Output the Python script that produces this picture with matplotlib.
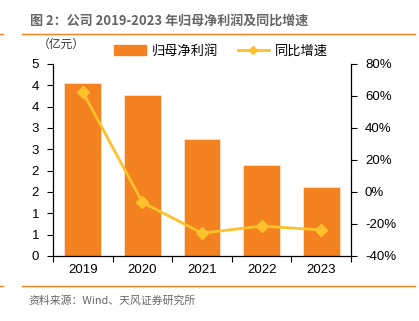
import matplotlib
matplotlib.use('Agg')
import matplotlib.pyplot as plt
from matplotlib.ticker import FuncFormatter, MultipleLocator
from matplotlib.lines import Line2D
from matplotlib.patches import Patch
import math

years = ['2019', '2020', '2021', '2022', '2023']
profit = [4.05, 3.77, 2.74, 2.13, 1.62]        # 亿元
growth = [0.625, -0.065, -0.257, -0.213, -0.237]

bar_color = '#F58220'
line_color = '#FDC12B'
cjk = ['Noto Sans CJK SC', 'DejaVu Sans']
latin = ['Liberation Sans', 'Noto Sans CJK SC']

plt.rcParams['font.family'] = latin

fig = plt.figure(figsize=(4.19, 3.21), dpi=100)
ax = fig.add_axes([53 / 419, 1 - 256 / 321, 298 / 419, 192 / 321])
ax2 = ax.twinx()

x = list(range(len(years)))
ax.bar(x, profit, width=0.62, color=bar_color, edgecolor='#FBE3CC', linewidth=0.6, zorder=2)
ax2.plot(x, growth, color=line_color, lw=2, marker='D', ms=6, zorder=3)

ax.set_xlim(-0.5, 4.5)
ax.set_ylim(0, 4.5)
ax2.set_ylim(-0.4, 0.8)

ax.yaxis.set_major_locator(MultipleLocator(0.5))
ax.yaxis.set_major_formatter(FuncFormatter(lambda v, p: '%d' % math.floor(v + 0.5 + 1e-9)))
ax2.yaxis.set_major_locator(MultipleLocator(0.2))
ax2.yaxis.set_major_formatter(FuncFormatter(lambda v, p: '%d%%' % round(v * 100)))

ax.set_xticks(x)
ax.set_xticklabels(years)
ax.set_xticks([i - 0.5 for i in range(len(years) + 1)], minor=True)
ax.tick_params(axis='x', which='major', length=0, pad=6, labelsize=9.5)
ax.tick_params(axis='x', which='minor', length=4, direction='out', width=0.8)
ax.tick_params(axis='y', length=4, width=0.8, labelsize=9.5, pad=6)
ax2.tick_params(axis='y', length=4, width=0.8, labelsize=9.5, pad=6)

for a in (ax, ax2):
    a.spines['top'].set_visible(False)
    for s in ('left', 'right', 'bottom'):
        a.spines[s].set_linewidth(0.9)
ax.spines['right'].set_visible(False)
ax2.spines['left'].set_visible(False)
ax2.spines['bottom'].set_visible(False)

handles = [Patch(color=bar_color, label='归母净利润'),
           Line2D([0], [0], color=line_color, lw=2, marker='D', ms=4, label='同比增速')]
fig.legend(handles=handles, loc='center', bbox_to_anchor=(221 / 419, 1 - 51 / 321), ncol=2,
           frameon=False, prop={'family': cjk, 'size': 9.5}, handlelength=2.4,
           handleheight=0.8, columnspacing=1.5, handletextpad=0.45,
           borderpad=0, borderaxespad=0)

fig.text(38 / 419, 1 - 44 / 321, '（亿元）', family=cjk, fontsize=8.5, color='#333333',
         va='center', ha='left')

fig.text(30 / 419, 1 - 21 / 321, '图 2：公司 2019-2023 年归母净利润及同比增速', family=cjk,
         fontsize=9.4, color='#666666', fontweight='bold', va='center', ha='left')
fig.add_artist(Line2D([22 / 419, 415 / 419], [1 - 34 / 321] * 2, color=bar_color, lw=1))
fig.add_artist(Line2D([0, 3 / 419], [1 - 34 / 321] * 2, color=bar_color, lw=1))
fig.add_artist(Line2D([22 / 419, 415 / 419], [1 - 286 / 321] * 2, color=bar_color, lw=1))
fig.add_artist(Line2D([0, 3 / 419], [1 - 286 / 321] * 2, color=bar_color, lw=1))
fig.text(28 / 419, 1 - 301 / 321, '资料来源：Wind、天风证券研究所', family=cjk,
         fontsize=7.8, color='#666666', va='center', ha='left')

fig.savefig('out.png', dpi=100)
